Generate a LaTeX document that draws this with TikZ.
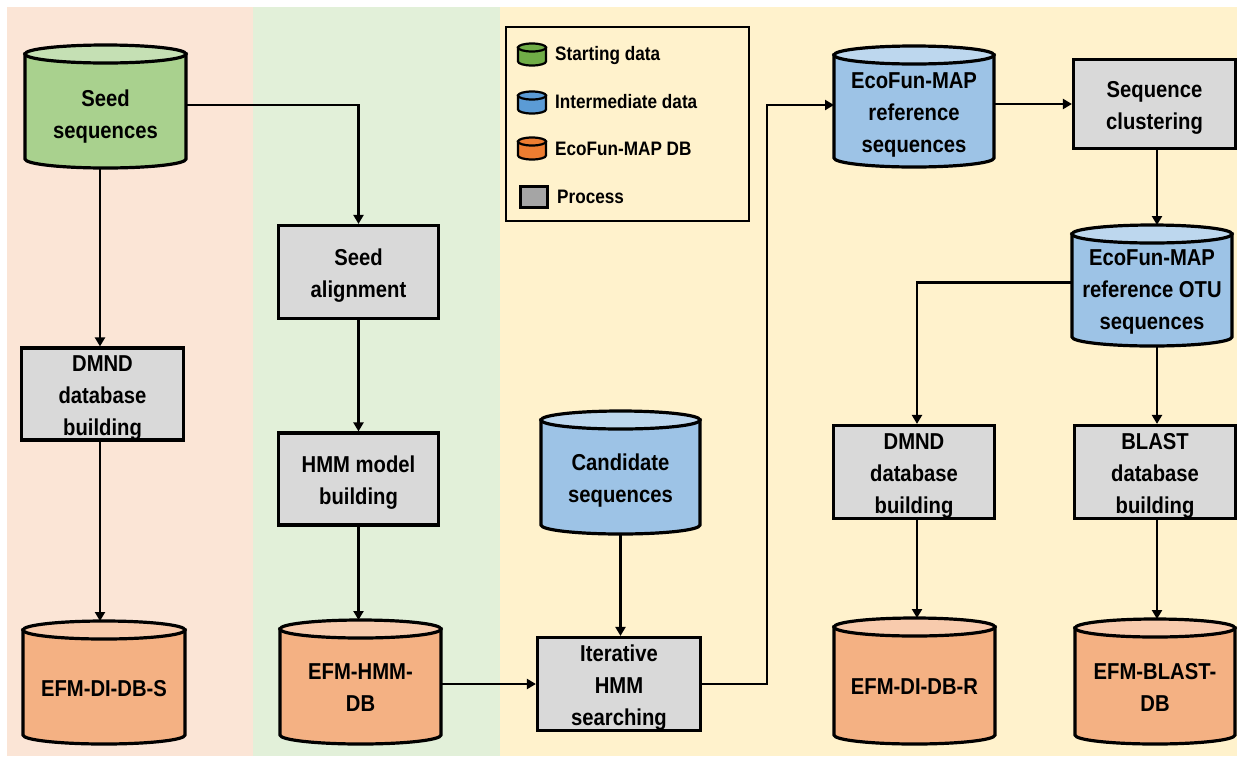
\documentclass[tikz,border=0pt]{standalone}
\usepackage{fontspec}
\setmainfont{Liberation Sans}[FakeStretch=0.88]
\usetikzlibrary{arrows.meta}
\definecolor{bgpeach}{HTML}{FBE5D6}
\definecolor{bggreen}{HTML}{E2F0D9}
\definecolor{bgyellow}{HTML}{FFF2CC}
\definecolor{boxgray}{HTML}{D9D9D9}
\definecolor{greenbody}{HTML}{A9D18E}
\definecolor{greentop}{HTML}{C5E0B4}
\definecolor{bluebody}{HTML}{9DC3E6}
\definecolor{bluetop}{HTML}{BDD7EE}
\definecolor{orangebody}{HTML}{F4B183}
\definecolor{orangetop}{HTML}{F8CBAD}
\definecolor{lggreen}{HTML}{70AD47}
\definecolor{lgblue}{HTML}{5B9BD5}
\definecolor{lgorange}{HTML}{ED7D31}
\definecolor{lggray}{HTML}{A5A5A5}
\newcommand\drawcyl[6]{% name, body, top, half width, half ellipse height, line width
  \draw[line width=#6, fill=#2] ([yshift=-#5pt]#1.north west) -- ([yshift=#5pt]#1.south west)
    arc[start angle=180, end angle=360, x radius=#4pt, y radius=#5pt] -- ([yshift=-#5pt]#1.north east) -- cycle;
  \draw[line width=#6, fill=#3] ([yshift=-#5pt]#1.north) ellipse[x radius=#4pt, y radius=#5pt];
}
\begin{document}
\begin{tikzpicture}[x=1pt,y=-1pt,
  mainfont/.style={font=\fontsize{23}{32}\selectfont\bfseries},
  box/.style={draw=black, line width=3.2pt, fill=boxgray, inner sep=0pt},
  geom/.style={draw=none, inner sep=0pt, outer sep=0pt},
  ntext/.style={align=center, inner sep=0pt, mainfont},
  arr/.style={line width=2.8pt, -{Triangle[length=9pt,width=10pt]}},
  lgtext/.style={anchor=west, inner sep=0pt, font=\fontsize{19.5}{24}\selectfont\bfseries}
]
\useasboundingbox (0,0) rectangle (1250,756);
% background bands
\fill[bgpeach] (7,7) rectangle (253,756);
\fill[bggreen] (253,7) rectangle (500,756);
\fill[bgyellow] (500,7) rectangle (1237,756);

% legend
\node[draw=black, line width=2.4pt, fill=bgyellow, minimum width=243pt, minimum height=194pt, inner sep=0pt] (legend) at (627.5,124) {};
\node[geom, minimum width=28pt, minimum height=22pt] (lg1) at (532,54.5) {};
\drawcyl{lg1}{lggreen}{lggreen}{14}{4}{2.2pt}
\node[geom, minimum width=28pt, minimum height=22pt] (lg2) at (532,102.5) {};
\drawcyl{lg2}{lgblue}{lgblue}{14}{4}{2.2pt}
\node[geom, minimum width=28pt, minimum height=22pt] (lg3) at (532,148.5) {};
\drawcyl{lg3}{lgorange}{lgorange}{14}{4}{2.2pt}
\node[draw=black, line width=2.4pt, fill=lggray, minimum width=27pt, minimum height=21pt, inner sep=0pt] (lg4) at (534,197) {};
\node[lgtext] (lt1) at (555,55) {Starting data};
\node[lgtext] (lt2) at (555,102) {Intermediate data};
\node[lgtext] (lt3) at (555,149) {EcoFun-MAP DB};
\node[lgtext] (lt4) at (557,197) {Process};

% cylinders
\node[geom, minimum width=161pt, minimum height=123pt] (seed) at (105.5,106.5) {};
\drawcyl{seed}{greenbody}{greentop}{80.5}{9}{3.2pt}
\node[ntext] (seed-t) at ([yshift=-10pt]seed.center) {Seed\\sequences};

\node[geom, minimum width=162pt, minimum height=123pt] (dbs) at (104,682.5) {};
\drawcyl{dbs}{orangebody}{orangetop}{81}{9}{3.2pt}
\node[ntext] (dbs-t) at ([yshift=-6pt]dbs.center) {EFM-DI-DB-S};

\node[geom, minimum width=161pt, minimum height=124pt] (hmmdb) at (360.5,682) {};
\drawcyl{hmmdb}{orangebody}{orangetop}{80.5}{9}{3.2pt}
\node[ntext] (hmmdb-t) at ([yshift=-6pt]hmmdb.center) {EFM-HMM-\\DB};

\node[geom, minimum width=159pt, minimum height=123pt] (cand) at (620.5,472.5) {};
\drawcyl{cand}{bluebody}{bluetop}{79.5}{9}{3.2pt}
\node[ntext] (cand-t) at ([yshift=-8pt]cand.center) {Candidate\\sequences};

\node[geom, minimum width=160pt, minimum height=121pt] (ref) at (914,106.5) {};
\drawcyl{ref}{bluebody}{bluetop}{80}{9}{3.2pt}
\node[ntext] (ref-t) at ([yshift=-8pt]ref.center) {EcoFun-MAP\\reference\\sequences};

\node[geom, minimum width=160pt, minimum height=121pt] (otu) at (1152,285.5) {};
\drawcyl{otu}{bluebody}{bluetop}{80}{9}{3.2pt}
\node[ntext] (otu-t) at ([yshift=-6pt]otu.center) {EcoFun-MAP\\reference OTU\\sequences};

\node[geom, minimum width=161pt, minimum height=126pt] (dbr) at (914.5,681) {};
\drawcyl{dbr}{orangebody}{orangetop}{80.5}{9}{3.2pt}
\node[ntext] (dbr-t) at ([yshift=-6pt]dbr.center) {EFM-DI-DB-R};

\node[geom, minimum width=160pt, minimum height=125pt] (blastdb) at (1155,681.5) {};
\drawcyl{blastdb}{orangebody}{orangetop}{80}{9}{3.2pt}
\node[ntext] (blastdb-t) at ([yshift=-6pt]blastdb.center) {EFM-BLAST-\\DB};

% process boxes
\node[box, minimum width=162pt, minimum height=92pt] (dmnd1) at (102.5,394) {};
\node[ntext] (dmnd1-t) at ([yshift=-4pt]dmnd1.center) {DMND\\database\\building};
\node[box, minimum width=160pt, minimum height=93pt] (salign) at (358.5,272) {};
\node[ntext] (salign-t) at ([yshift=-4pt]salign.center) {Seed\\alignment};
\node[box, minimum width=160pt, minimum height=92pt] (hmm) at (358.5,479) {};
\node[ntext] (hmm-t) at ([yshift=-4pt]hmm.center) {HMM model\\building};
\node[box, minimum width=163pt, minimum height=93pt] (iter) at (619,684) {};
\node[ntext] (iter-t) at ([yshift=-4pt]iter.center) {Iterative\\HMM\\searching};
\node[box, minimum width=162pt, minimum height=89pt] (clust) at (1154.5,104) {};
\node[ntext] (clust-t) at ([yshift=-4pt]clust.center) {Sequence\\clustering};
\node[box, minimum width=161pt, minimum height=93pt] (dmnd2) at (914,472) {};
\node[ntext] (dmnd2-t) at ([yshift=-4pt]dmnd2.center) {DMND\\database\\building};
\node[box, minimum width=161pt, minimum height=93pt] (blast) at (1155,472) {};
\node[ntext] (blast-t) at ([yshift=-4pt]blast.center) {BLAST\\database\\building};

% connectors
\coordinate (b1) at (767,105);
\draw[arr] ([yshift=1.5pt]seed.east) -| (salign.north);
\draw[arr] (seed.south -| 100,0) -- (dmnd1.north -| 100,0);
\draw[arr] (dmnd1.south -| 100,0) -- (dbs.north -| 100,0);
\draw[arr] (salign.south) -- (hmm.north);
\draw[arr] (hmm.south) -- (hmm.south |- hmmdb.north);
\draw[arr] (hmmdb.east |- iter.west) -- (iter.west);
\draw[arr] (cand.south) -- (cand.south |- iter.north);
\draw[arr] (iter.east) -| (b1) -- (b1 -| ref.west);
\draw[arr] (clust.west -| ref.east) -- (clust.west);
\draw[arr] (clust.south -| 1157,0) -- (otu.north -| 1157,0);
\draw[arr] ([yshift=3pt]otu.west) -| (dmnd2.north -| 917,0);
\draw[arr] (otu.south -| 1157,0) -- (blast.north -| 1157,0);
\draw[arr] (dmnd2.south -| 917,0) -- (dbr.north -| 917,0);
\draw[arr] (blast.south -| 1157,0) -- (blastdb.north -| 1157,0);
\end{tikzpicture}
\end{document}
